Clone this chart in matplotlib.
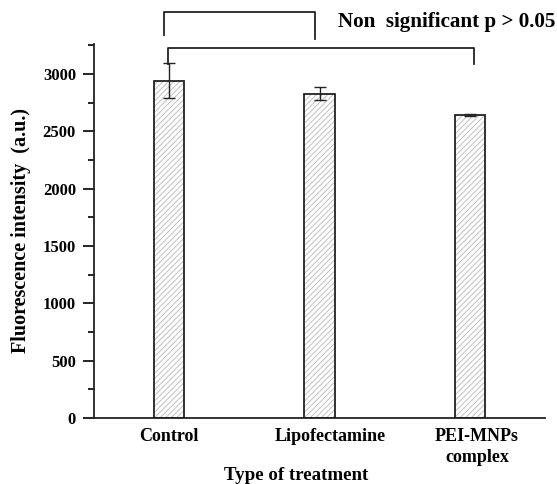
import matplotlib
matplotlib.use("Agg")
import matplotlib.pyplot as plt
import matplotlib.transforms as mtransforms
from matplotlib.ticker import MultipleLocator

plt.rcParams["font.family"] = ["Liberation Serif", "DejaVu Serif"]
plt.rcParams["font.weight"] = "bold"
plt.rcParams["hatch.linewidth"] = 0.6

categories = ["Control", "Lipofectamine", "PEI-MNPs\ncomplex"]
intensity = [2938, 2828, 2639]
errors = [153, 54, 8]

fig = plt.figure(figsize=(5.57, 4.84), dpi=100)
ax = fig.add_axes([0.1688, 0.1364, 0.8097, 0.7727])

x = list(range(len(categories)))
width = 0.2
# hatch layer in grey, then black outline on top
ax.bar(x, intensity, width=width, color="white", edgecolor="#b8b8b8",
       hatch="//////", linewidth=0)
ax.bar(x, intensity, width=width, fill=False, edgecolor="#222222", linewidth=1.3)
ax.errorbar(x, intensity, yerr=errors, fmt="none", ecolor="#222222",
            elinewidth=1.0, capsize=4.5, capthick=1.0)

ax.set_xlim(-0.5, 2.5)
ax.set_ylim(0, 3260)
ax.yaxis.set_major_locator(MultipleLocator(500))
ax.yaxis.set_minor_locator(MultipleLocator(250))
ax.tick_params(axis="y", which="major", length=8, width=1.2, direction="out",
               labelsize=12, pad=5)
ax.tick_params(axis="y", which="minor", length=4, width=1.2, direction="out")
ax.tick_params(axis="x", length=0, labelsize=13, pad=7)
ax.set_xticks(x)
ax.set_xticklabels(categories, fontweight="bold", linespacing=1.35)
for lab in ax.get_yticklabels():
    lab.set_fontweight("bold")

# labels in the original sit a little right of their bars
label_shift = [0, 11, 7]
for lab, dx in zip(ax.get_xticklabels(), label_shift):
    lab.set_transform(lab.get_transform() +
                      mtransforms.ScaledTranslation(dx / 100, 0, fig.dpi_scale_trans))

for side in ["top", "right"]:
    ax.spines[side].set_visible(False)
for side in ["left", "bottom"]:
    ax.spines[side].set_linewidth(1.3)
    ax.spines[side].set_color("#222222")

ax.set_ylabel("Fluorescence intensity  (a.u.)", fontsize=14.5, fontweight="bold")
ax.set_xlabel("Type of treatment", fontsize=13.6, fontweight="bold")
ax.yaxis.set_label_coords(-0.139, 0.5)
ax.xaxis.set_label_coords(0.448, -0.130)

# significance brackets
ax.plot([-0.033, -0.033, 0.973, 0.973], [3340, 3543, 3543, 3303], color="#222222",
        linewidth=1.3, clip_on=False)
ax.plot([-0.009, -0.009, 2.025, 2.025], [3087, 3229, 3229, 3087], color="#222222",
        linewidth=1.3, clip_on=False)
fig.text(0.606, 0.945, "Non  significant p > 0.05", fontsize=15.2,
         fontweight="bold", va="baseline", ha="left")

fig.savefig("out.png", dpi=100)
